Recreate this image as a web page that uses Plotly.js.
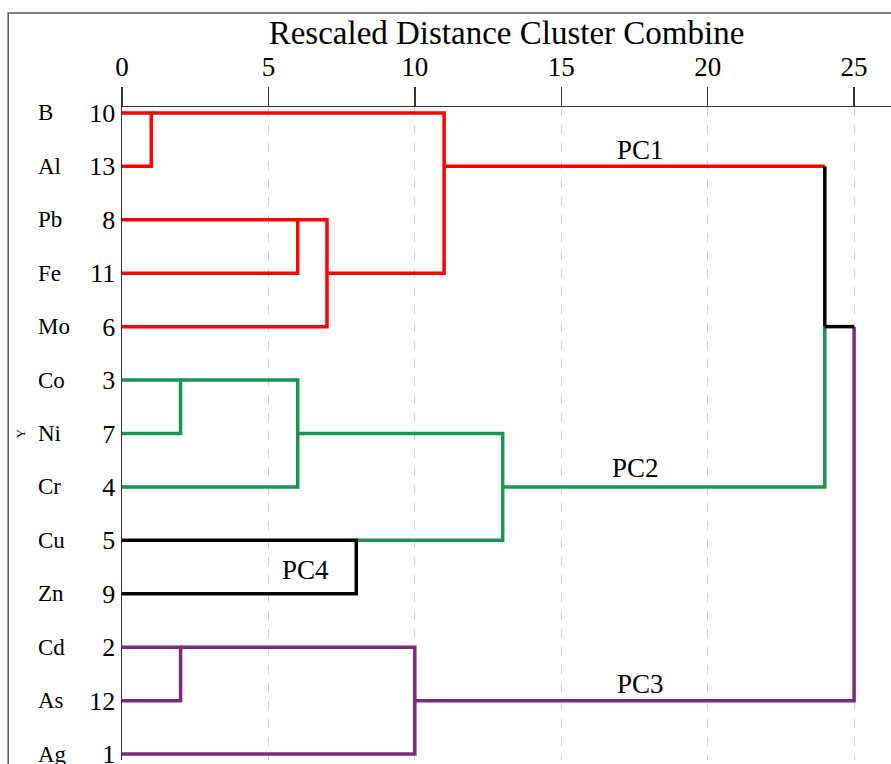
<!DOCTYPE html>
<html>
<head>
<meta charset="utf-8">
<script src="https://cdn.plot.ly/plotly-3.0.1.min.js"></script>
<style>html,body{margin:0;padding:0;background:#fff;}#chart{width:891px;height:764px;}</style>
</head>
<body>
<div id="chart"></div>
<script>
// Leaves (top to bottom)
const leafNames = ['B','Al','Pb','Fe','Mo','Co','Ni','Cr','Cu','Zn','Cd','As','Ag'];
const caseNumbers = [10,13,8,11,6,3,7,4,5,9,2,12,1];
// Merges: node ids 0..12 are leaves, merges get ids 13..24 in order
const mergeA = [0, 5, 10, 2, 14, 16, 8, 15, 13, 17, 21, 23];
const mergeB = [1, 6, 11, 3, 7, 4, 9, 12, 18, 19, 22, 20];
const mergeDist = [1, 2, 2, 6, 6, 7, 8, 10, 11, 13, 24, 25];
// colour of each node's branch toward its parent
const branchColor = ['red','red','red','red','red','green','green','green','black','black','purple','purple','purple',
                     'red','green','purple','red','green','red','green','purple','red','green','black',null];
// colours of the vertical connector (upper part, lower part) per merge
const vertUpper = ['red','green','purple','red','green','red','black','purple','red','green','black','purple'];
const vertLower = ['red','green','purple','red','green','red','black','purple','red','green','green','purple'];
const tickVals = [0,5,10,15,20,25];
const clusterLabels = ['PC1','PC2','PC3','PC4'];
const clusterLabelX = [17.7, 17.55, 17.7, 6.25];
const clusterLabelY = [0.69, 6.65, 10.69, 8.55];

const palette = {red:'#ff0000', green:'#1a9450', purple:'#7b2a80', black:'#000000'};
const FONT = 'Liberation Serif';

// compute node rows and heights
const nLeaf = leafNames.length;
const row = [], height = [];
for (let i = 0; i < nLeaf; i++) { row.push(i); height.push(0); }
for (let m = 0; m < mergeA.length; m++) {
  const a = mergeA[m], b = mergeB[m];
  row.push(Math.floor((row[a] + row[b]) / 2));
  height.push(mergeDist[m]);
}

// build polylines per colour
const segs = {red:{x:[],y:[]}, green:{x:[],y:[]}, purple:{x:[],y:[]}, black:{x:[],y:[]}};
for (let m = 0; m < mergeA.length; m++) {
  const a = mergeA[m], b = mergeB[m], d = mergeDist[m], node = nLeaf + m;
  const ra = row[a] <= row[b] ? a : b;
  const rb = ra === a ? b : a;
  const pieces = [
    {c: branchColor[ra], p: [[height[ra], row[ra]], [d, row[ra]]]},
    {c: vertUpper[m], p: [[d, row[ra]], [d, row[node]]]},
    {c: vertLower[m], p: [[d, row[node]], [d, row[rb]]]},
    {c: branchColor[rb], p: [[d, row[rb]], [height[rb], row[rb]]]}
  ];
  const lines = [];
  for (const pc of pieces) {
    if (pc.p[0][0] === pc.p[1][0] && pc.p[0][1] === pc.p[1][1]) continue;
    const last = lines[lines.length - 1];
    if (last && last.c === pc.c) last.p.push(pc.p[1]);
    else lines.push({c: pc.c, p: [pc.p[0], pc.p[1]]});
  }
  for (const ln of lines) {
    const s = segs[ln.c];
    for (const pt of ln.p) { s.x.push(pt[0]); s.y.push(pt[1]); }
    s.x.push(null); s.y.push(null);
  }
}

const traces = ['red','green','purple','black'].map(c => ({
  x: segs[c].x, y: segs[c].y, mode: 'lines', type: 'scatter',
  line: {color: palette[c], width: 3.5}, hoverinfo: 'skip', showlegend: false,
  connectgaps: false
}));

const annotations = [];
leafNames.forEach((nm, i) => {
  annotations.push({xref:'paper', x:-0.112, yref:'y', y:i, text:nm, showarrow:false,
    xanchor:'left', yanchor:'middle', font:{family:FONT, size:23, color:'#000'}});
});
clusterLabels.forEach((t, i) => {
  annotations.push({x: clusterLabelX[i], y: clusterLabelY[i], text: t, showarrow:false,
    xanchor:'center', yanchor:'middle', font:{family:FONT, size:27, color:'#000'}});
});

const layout = {
  width: 891, height: 764,
  margin: {l:122, r:0, t:107, b:4, autoexpand:false},
  paper_bgcolor:'#fff', plot_bgcolor:'#fff',
  font: {family: FONT, color:'#000'},
  title: {text:'Rescaled Distance Cluster Combine', font:{family:FONT, size:33, color:'#000'},
    xref:'paper', x:0.5, xanchor:'center', yref:'container', y:0.958, yanchor:'middle'},
  xaxis: {
    side:'top', range:[0, 26.26], tickvals: tickVals, ticks:'outside', ticklen:19,
    tickwidth:1.5, tickcolor:'#333', showline:true, linecolor:'#333', linewidth:1.5,
    showgrid:true, gridcolor:'#d0d0d0', griddash:'dash', gridwidth:1, zeroline:false,
    tickfont:{family:FONT, size:27, color:'#000'},
    automargin:false, fixedrange:true
  },
  yaxis: {
    range:[12.11, -0.11], tickvals: caseNumbers.map((_, i) => i), ticktext: caseNumbers.map(String),
    ticks:'', showline:true, linecolor:'#333', linewidth:1.5, showgrid:false, zeroline:false,
    tickfont:{family:FONT, size:26, color:'#000'}, ticklabeloverflow:'allow',
    title:{text:'Y', font:{family:FONT, size:13, color:'#000'}, standoff:60},
    automargin:false, fixedrange:true
  },
  shapes: [{type:'rect', xref:'paper', yref:'paper', x0:-0.148, x1:1.2, y0:-0.2, y1:1.144,
    line:{color:'#555', width:1.5}, fillcolor:'rgba(0,0,0,0)', layer:'below'}],
  annotations: annotations,
  showlegend:false
};

Plotly.newPlot('chart', traces, layout, {displayModeBar:false, staticPlot:true});
</script>
</body>
</html>
